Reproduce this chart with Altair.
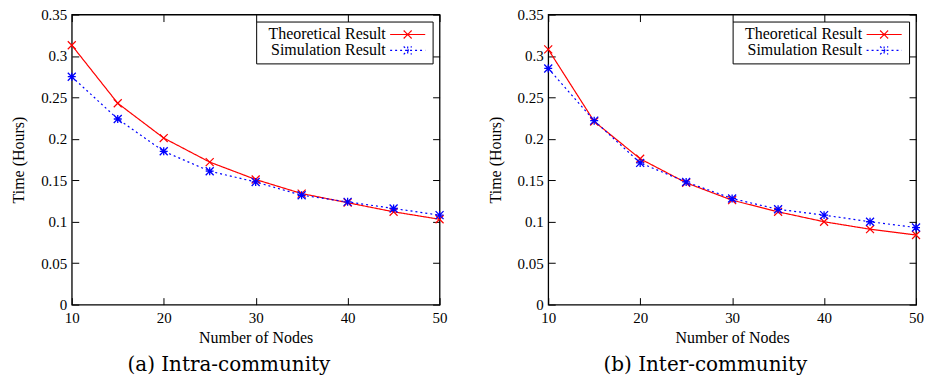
import altair as alt
import pandas as pd

nodes = [10, 15, 20, 25, 30, 35, 40, 45, 50]
series_names = ["Theoretical Result", "Simulation Result"]
series_colors = ["#ff0000", "#0000ff"]

intra_theoretical = [0.313, 0.243, 0.201, 0.172, 0.151, 0.134, 0.123, 0.112, 0.103]
intra_simulation = [0.275, 0.224, 0.185, 0.161, 0.148, 0.132, 0.124, 0.116, 0.108]
inter_theoretical = [0.308, 0.221, 0.176, 0.147, 0.126, 0.112, 0.100, 0.091, 0.084]
inter_simulation = [0.285, 0.222, 0.171, 0.148, 0.128, 0.115, 0.108, 0.100, 0.093]

x_ticks = [10, 20, 30, 40, 50]
y_ticks = [0, 0.05, 0.1, 0.15, 0.2, 0.25, 0.3, 0.35]

W, H = 369, 291
TICK = 7
SERIF = "Liberation Serif"

CROSS = "M-1,-1L1,1M-1,1L1,-1"
STAR = "M-1,0L1,0M0,-1L0,1M-1,-1L1,1M-1,1L1,-1"
LEG_CROSS = "M-4.4,0L4.4,0M-1,-1L1,1M-1,1L1,-1"
LEG_STAR = "M-4.4,0L4.4,0M0,-1L0,1M-1,-1L1,1M-1,1L1,-1"


def make_df(theo, sim):
    rows = []
    for n, v in zip(nodes, theo):
        rows.append({"nodes": n, "time": v, "series": series_names[0]})
    for n, v in zip(nodes, sim):
        rows.append({"nodes": n, "time": v, "series": series_names[1]})
    return pd.DataFrame(rows)


def panel(df, caption):
    x = alt.X(
        "nodes:Q",
        scale=alt.Scale(domain=[10, 50], nice=False, zero=False),
        axis=alt.Axis(
            title="Number of Nodes",
            values=x_ticks,
            ticks=False,
            domain=False,
            labelFlush=False,
            labelPadding=6,
            titlePadding=4,
            grid=True,
            gridColor="black",
            gridOpacity=1,
            gridWidth=1,
            gridDash=[TICK, H - 2 * TICK, TICK],
        ),
    )
    y = alt.Y(
        "time:Q",
        scale=alt.Scale(domain=[0, 0.35], nice=False),
        axis=alt.Axis(
            title="Time (Hours)",
            values=y_ticks,
            format="~g",
            ticks=False,
            domain=False,
            labelPadding=5,
            titlePadding=14,
            grid=True,
            gridColor="black",
            gridOpacity=1,
            gridWidth=1,
            gridDash=[TICK, W - 2 * TICK, TICK],
        ),
    )
    color = alt.Color(
        "series:N",
        scale=alt.Scale(domain=series_names, range=series_colors),
        legend=alt.Legend(
            title=None,
            orient="top-right",
            offset=7,
            strokeColor="black",
            fillColor="white",
            padding=5,
            labelFont=SERIF,
            labelFontSize=16,
            labelColor="black",
            labelAlign="right",
            labelOffset={"expr": "-30"},
            labelLimit=0,
            symbolSize=64,
            symbolOffset=139,
            symbolStrokeWidth=1.2,
            symbolFillColor="transparent",
            symbolType={
                "expr": "datum.value === 'Theoretical Result' ? '"
                + LEG_CROSS
                + "' : '"
                + LEG_STAR
                + "'"
            },
            rowPadding=0,
        ),
    )
    dash = alt.StrokeDash(
        "series:N",
        scale=alt.Scale(domain=series_names, range=[[1, 0], [2, 3]]),
        legend=None,
    )
    lines = alt.Chart(df).mark_line(strokeWidth=1.2).encode(
        x=x, y=y, color=color, strokeDash=dash
    )
    theo_pts = (
        alt.Chart(df)
        .transform_filter(alt.datum.series == series_names[0])
        .mark_point(filled=False, size=64, strokeWidth=1.2, opacity=1, shape=CROSS, color=series_colors[0])
        .encode(x=x, y=y)
    )
    sim_pts = (
        alt.Chart(df)
        .transform_filter(alt.datum.series == series_names[1])
        .mark_point(filled=False, size=64, strokeWidth=1.3, opacity=1, shape=STAR, color=series_colors[1])
        .encode(x=x, y=y)
    )
    return alt.layer(lines, theo_pts, sim_pts).properties(
        width=W,
        height=H,
        title=alt.TitleParams(
            text=caption,
            orient="bottom",
            anchor="middle",
            frame="bounds",
            font="DejaVu Serif",
            fontSize=20,
            fontWeight="normal",
            color="black",
            offset=10,
        ),
    )


left = panel(make_df(intra_theoretical, intra_simulation), "(a) Intra-community")
right = panel(make_df(inter_theoretical, inter_simulation), "(b) Inter-community")

chart = (
    alt.hconcat(left, right, spacing=38)
    .resolve_scale(color="independent", strokeDash="independent")
    .resolve_legend(color="independent", strokeDash="independent")
    .properties(padding={"left": 10, "top": 6, "right": 0, "bottom": 0}, background="white")
    .configure_view(stroke="black", strokeWidth=1.3)
    .configure_axis(
        labelFont=SERIF,
        labelFontSize=15,
        labelColor="black",
        titleFont=SERIF,
        titleFontSize=16,
        titleFontWeight="normal",
        titleColor="black",
    )
)

chart.save("out.html", embed_options={"renderer": "svg", "actions": False})
